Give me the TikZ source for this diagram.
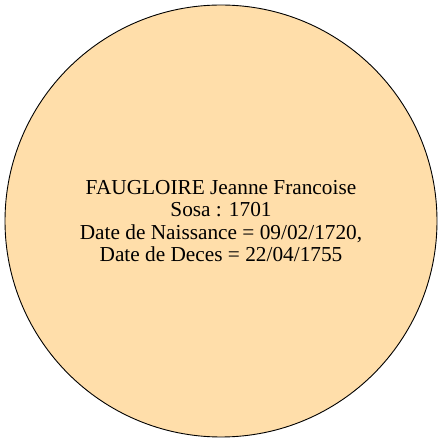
\documentclass[tikz,border=0pt]{standalone}
\usepackage{fontspec}
\setmainfont{Liberation Serif}
\newfontfamily\labelfont{Liberation Serif}
\usetikzlibrary{positioning}
\definecolor{peach}{HTML}{FFDEAA}
\definecolor{ink}{HTML}{000000}

\begin{document}
\begin{tikzpicture}[x=1pt,y=1pt]
        \useasboundingbox (0,0) rectangle (442,442);
        \node[
          circle,
          fill=peach,
          draw=ink,
          line width=0.9pt,
          minimum size=432pt,
          inner sep=0pt,
          text=ink,
          align=center,
          font=\labelfont\fontsize{21.3}{22.5}\selectfont
        ] (person) at (221,221) {FAUGLOIRE Jeanne Francoise\\Sosa : 1701\\Date de Naissance = 09/02/1720,\\Date de Deces = 22/04/1755};
      \end{tikzpicture}
\end{document}
